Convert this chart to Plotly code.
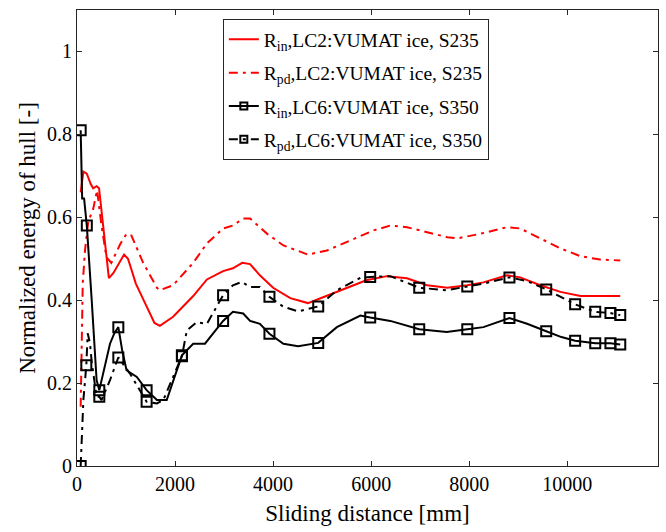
import plotly.graph_objects as go

# Rin, LC2 (red solid)
x_rin_lc2 = [75, 130, 200, 280, 330, 400, 450, 560, 650, 740, 960, 1040, 1200, 1400, 1580, 1690,
             1960, 2370, 2650, 2980, 3180, 3370, 3530, 3730, 4000, 4350, 4710, 5020, 5500, 5900,
             6320, 6730, 7140, 7550, 7960, 8290, 8770, 9040, 9450, 9860, 10270, 10670, 11080]
y_rin_lc2 = [0.66, 0.71, 0.705, 0.68, 0.67, 0.675, 0.67, 0.55, 0.453, 0.465, 0.51, 0.50, 0.44, 0.39,
             0.345, 0.338, 0.36, 0.41, 0.45, 0.47, 0.477, 0.49, 0.487, 0.46, 0.43, 0.405, 0.393,
             0.407, 0.43, 0.448, 0.458, 0.453, 0.436, 0.43, 0.436, 0.443, 0.46, 0.455, 0.436,
             0.42, 0.41, 0.41, 0.41]

# Rpd, LC2 (red dash-dot)
x_rpd_lc2 = [75, 117, 163, 230, 330, 410, 500, 600, 700, 880, 1010, 1110, 1350, 1630, 1690, 1960,
             2370, 2650, 2980, 3180, 3390, 3530, 3880, 4210, 4710, 5100, 5570, 6040, 6390, 6730,
             7140, 7550, 7750, 8220, 8770, 9040, 9450, 9860, 10270, 10670, 11080]
y_rpd_lc2 = [0.143, 0.44, 0.52, 0.59, 0.62, 0.665, 0.58, 0.504, 0.49, 0.535, 0.56, 0.556, 0.49,
             0.43, 0.424, 0.436, 0.49, 0.537, 0.573, 0.58, 0.597, 0.597, 0.56, 0.532, 0.51, 0.52,
             0.544, 0.568, 0.58, 0.576, 0.564, 0.552, 0.549, 0.56, 0.576, 0.573, 0.549, 0.525,
             0.506, 0.498, 0.496]

# Rin, LC6 (black solid, square markers)
x_rin_lc6 = [75, 105, 145, 200, 300, 400, 455, 560, 673, 760, 843, 920, 1010, 1220, 1420, 1630,
             1830, 2140, 2370, 2610, 2980, 3180, 3390, 3530, 3730, 3925, 4210, 4510, 4920, 5300,
             5780, 5980, 6390, 6980, 7540, 7960, 8290, 8820, 9180, 9570, 9880, 10160, 10570,
             10880, 11080]
y_rin_lc6 = [0.81, 0.645, 0.645, 0.58, 0.40, 0.207, 0.183, 0.24, 0.295, 0.32, 0.335, 0.28, 0.231,
             0.215, 0.183, 0.159, 0.159, 0.267, 0.295, 0.295, 0.35, 0.372, 0.368, 0.35, 0.343,
             0.319, 0.295, 0.289, 0.297, 0.335, 0.363, 0.358, 0.35, 0.33, 0.323, 0.33, 0.335,
             0.357, 0.343, 0.325, 0.311, 0.302, 0.296, 0.296, 0.293]
mk_rin_lc6 = [0, 3, 6, 10, 14, 17, 20, 25, 28, 31, 33, 35, 37, 39, 41, 42, 43, 44]

# Rpd, LC6 (black dash-dot, square markers)
x_rpd_lc6 = [75, 130, 190, 218, 265, 300, 400, 455, 500, 673, 843, 1080, 1420, 1630, 1760, 2140,
             2240, 2440, 2650, 2850, 2980, 3180, 3360, 3530, 3730, 3925, 4210, 4510, 4920, 5300,
             5780, 5980, 6390, 6980, 7540, 7960, 8290, 8820, 9180, 9570, 9880, 10160, 10570,
             10880, 11080]
y_rpd_lc6 = [0.0, 0.159, 0.243, 0.32, 0.296, 0.251, 0.167, 0.167, 0.159, 0.207, 0.262, 0.223,
             0.155, 0.151, 0.159, 0.265, 0.327, 0.347, 0.343, 0.384, 0.412, 0.436, 0.444, 0.432,
             0.432, 0.408, 0.384, 0.373, 0.385, 0.424, 0.454, 0.456, 0.458, 0.43, 0.424, 0.433,
             0.44, 0.455, 0.446, 0.426, 0.408, 0.39, 0.372, 0.369, 0.364]
mk_rpd_lc6 = [0, 2, 7, 10, 12, 15, 20, 25, 28, 31, 33, 35, 37, 39, 41, 42, 43, 44]

names = ["R<sub>in</sub>,LC2:VUMAT ice, S235",
         "R<sub>pd</sub>,LC2:VUMAT ice, S235",
         "R<sub>in</sub>,LC6:VUMAT ice, S350",
         "R<sub>pd</sub>,LC6:VUMAT ice, S350"]

x_ticks = [0, 2000, 4000, 6000, 8000, 10000]
y_ticks = [0, 0.2, 0.4, 0.6, 0.8, 1]

FONT = "Liberation Serif, Times New Roman, serif"
RED = "#ff0000"
BLK = "#000000"
DASHDOT = "9px,5px,3px,5px"

fig = go.Figure()

series = [
    (x_rin_lc2, y_rin_lc2, RED, "solid", None),
    (x_rpd_lc2, y_rpd_lc2, RED, DASHDOT, None),
    (x_rin_lc6, y_rin_lc6, BLK, "solid", mk_rin_lc6),
    (x_rpd_lc6, y_rpd_lc6, BLK, DASHDOT, mk_rpd_lc6),
]

for (xs, ys, col, dash, mk), nm in zip(series, names):
    fig.add_trace(go.Scatter(x=xs, y=ys, mode="lines", line=dict(color=col, width=2, dash=dash),
                             showlegend=False, hoverinfo="skip"))
    if mk is not None:
        fig.add_trace(go.Scatter(x=[xs[i] for i in mk], y=[ys[i] for i in mk], mode="markers",
                                 marker=dict(symbol="square-open", size=10, color=col,
                                             line=dict(width=2, color=col)),
                                 showlegend=False, hoverinfo="skip"))

# legend entries
for k, ((xs, ys, col, dash, mk), nm) in enumerate(zip(series, names)):
    fig.add_trace(go.Scatter(x=[None], y=[None], name=nm, legendgroup=f"g{k}",
                             mode="lines+markers" if mk is not None else "lines",
                             line=dict(color=col, width=2, dash=dash),
                             marker=dict(symbol="square-open", size=7, color=col,
                                         line=dict(width=2, color=col))))

axis_common = dict(showgrid=False, zeroline=False, ticks="inside", ticklen=5, tickwidth=1,
                   tickcolor="#262626", showline=True, linecolor="#262626", linewidth=1,
                   mirror="ticks", tickfont=dict(family=FONT, size=20, color="black"))

fig.update_xaxes(range=[0, 11850], tickvals=x_ticks, ticktext=[str(v) for v in x_ticks],
                 title=dict(text="Sliding distance [mm]", font=dict(family=FONT, size=23, color="black"),
                            standoff=10),
                 **axis_common)
fig.update_yaxes(range=[0, 1.1], tickvals=y_ticks, ticktext=[f"{v:g}" for v in y_ticks],
                 title=dict(text="Normalized energy of hull [-]", font=dict(family=FONT, size=23, color="black"),
                            standoff=4),
                 **axis_common)

fig.update_layout(
    width=666, height=532,
    margin=dict(l=77, r=8, t=10, b=66),
    paper_bgcolor="white", plot_bgcolor="white",
    font=dict(family=FONT, color="black"),
    legend=dict(x=0.251, y=0.98, xanchor="left", yanchor="top", bgcolor="white",
                bordercolor="#262626", borderwidth=1,
                font=dict(family=FONT, size=19.5, color="black"), tracegroupgap=5),
)

fig.write_html("out.html")
